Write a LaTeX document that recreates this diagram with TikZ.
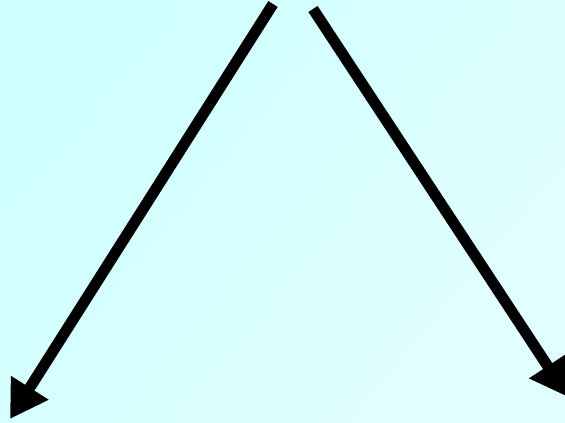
\documentclass[tikz,border=0pt]{standalone}
\usepackage{tikz}
\usetikzlibrary{arrows.meta}
\definecolor{skytop}{HTML}{CFFFFF}
\definecolor{skybot}{HTML}{E2FFFF}
\definecolor{ink}{HTML}{000000}
\tikzset{
  fork/.style={draw=ink,line width=11pt,-{Triangle[length=37pt,width=42pt]}}
}
\begin{document}
\begin{tikzpicture}[x=1pt,y=-1pt]
  \useasboundingbox (0,0) rectangle (565,423);
  \shade[top color=skytop,bottom color=skybot,shading angle=50] (0,0) rectangle (565,423);
  % ends of the two arrows
  \coordinate (ltop) at (273,4);
  \coordinate (lend) at (10,419);
  \coordinate (rtop) at (313,9);
  \coordinate (rend) at (568,397);
  \draw[fork] (ltop) -- (lend);
  \draw[fork] (rtop) -- (rend);
\end{tikzpicture}
\end{document}
